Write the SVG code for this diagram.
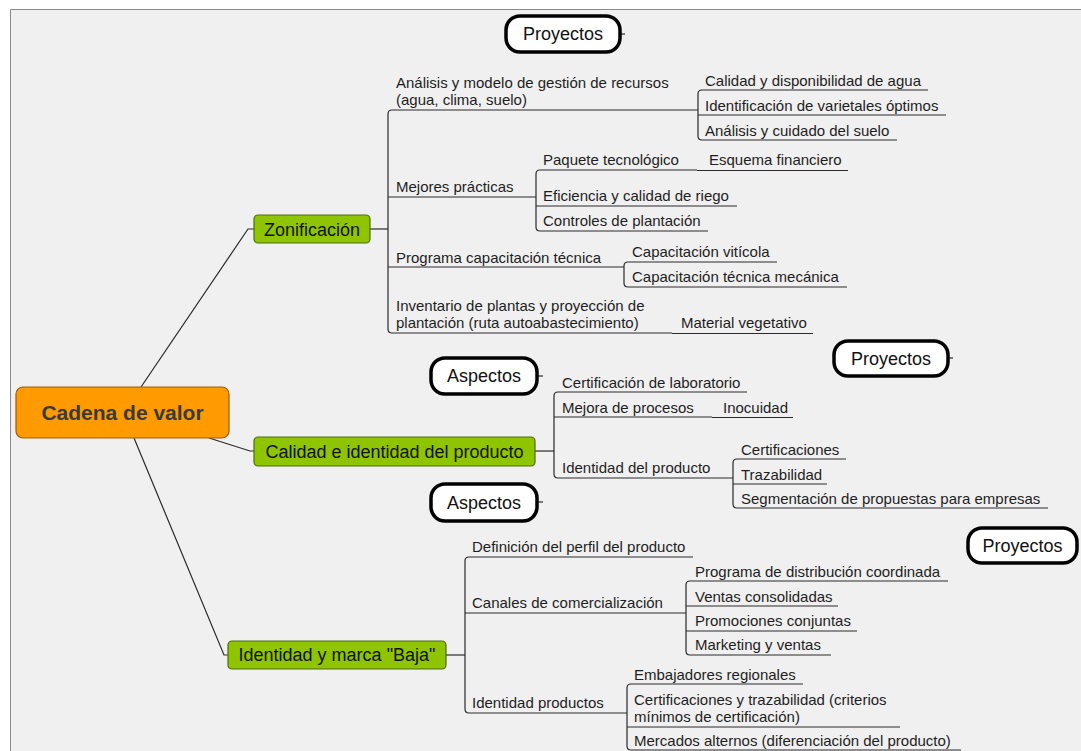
<svg xmlns="http://www.w3.org/2000/svg" width="1081" height="751" viewBox="0 0 1081 751">
<style>
.bg{fill:#f0f0f0}
.frame{fill:none;stroke:#8a8a8a;stroke-width:1}
.t{font-family:"Liberation Sans",Arial,sans-serif;font-size:15px;fill:#1e1e1e}
.bt{font-family:"Liberation Sans",Arial,sans-serif;font-size:18px;fill:#111;text-anchor:middle}
.rt{font-family:"Liberation Sans",Arial,sans-serif;font-size:21px;font-weight:bold;fill:#3a3a3a;text-anchor:middle}
.ul{stroke:#2a2a2a;stroke-width:1.2;fill:none}
.c{stroke:#2a2a2a;stroke-width:1.2;fill:none}
.green{fill:#8fc400;stroke:#4f6b10;stroke-width:1.2}
.root{fill:#ff9a00;stroke:#9a5c10;stroke-width:1.2}
.call{fill:#ffffff;stroke:#000;stroke-width:3.5}
</style>
<rect x="0" y="0" width="1081" height="751" fill="#ffffff"/>
<rect class="bg" x="10" y="9" width="1071" height="742"/>
<path class="frame" d="M10.5 751 V9.5 H1081"/>

<g id="connectors">
  <!-- root to main branches -->
  <path class="c" d="M141 387 L248 229 H254"/>
  <path class="c" d="M209 438 L250 451 H254"/>
  <path class="c" d="M134 438 L224 655 H228"/>
  <!-- Zonificacion -->
  <path class="c" d="M370 229 H388"/>
  <path class="c" d="M392 110 Q388 110 388 114 V329 Q388 333 392 333"/>
  <path class="c" d="M702 90 Q698 90 698 94 V136 Q698 140 702 140"/>
  <path class="c" d="M540 170 Q536 170 536 174 V227 Q536 231 540 231"/>
  <path class="c" d="M628 262 Q624 262 624 266 V283 Q624 287 628 287"/>
  <!-- Calidad -->
  <path class="c" d="M535 451 H554"/>
  <path class="c" d="M558 392 Q554 392 554 396 V474 Q554 478 558 478"/>
  <path class="c" d="M737 459 Q733 459 733 463 V504 Q733 508 737 508"/>
  <!-- Identidad y marca -->
  <path class="c" d="M446 655 H465"/>
  <path class="c" d="M469 557 Q465 557 465 561 V709 Q465 713 469 713"/>
  <path class="c" d="M690 581 Q686 581 686 585 V651 Q686 655 690 655"/>
  <path class="c" d="M631 684 Q627 684 627 688 V746 Q627 750 631 750"/>
  <!-- callout ticks -->
  <path class="c" d="M620 34 H625"/>
  <path class="c" d="M948 358 H953"/>
  <path class="c" d="M537 376 H543"/>
  <path class="c" d="M537 502 H543"/>
</g>

<g id="root">
  <rect class="root" x="16" y="387" width="213" height="51" rx="7"/>
  <text class="rt" x="122.5" y="420">Cadena de valor</text>
</g>

<g id="zonificacion">
  <rect class="green" x="254" y="215" width="116" height="28" rx="4"/>
  <text class="bt" x="312" y="235.5">Zonificación</text>
</g>
<g id="calidad">
  <rect class="green" x="254" y="437" width="281" height="29" rx="4"/>
  <text class="bt" x="394.5" y="458">Calidad e identidad del producto</text>
</g>
<g id="identidad-marca">
  <rect class="green" x="228" y="641" width="218" height="28" rx="4"/>
  <text class="bt" x="337" y="661">Identidad y marca "Baja"</text>
</g>

<g id="proyectos-1">
  <rect class="call" x="506" y="16" width="114" height="36" rx="14"/>
  <text class="bt" x="563" y="40" fill="#111">Proyectos</text>
</g>
<g id="proyectos-2">
  <rect class="call" x="834" y="341" width="114" height="35" rx="14"/>
  <text class="bt" x="891" y="364.5">Proyectos</text>
</g>
<g id="aspectos-1">
  <rect class="call" x="431" y="358" width="106" height="36" rx="14"/>
  <text class="bt" x="484" y="382">Aspectos</text>
</g>
<g id="aspectos-2">
  <rect class="call" x="431" y="484" width="106" height="37" rx="14"/>
  <text class="bt" x="484" y="508.5">Aspectos</text>
</g>
<g id="proyectos-3">
  <rect class="call" x="968" y="528" width="109" height="35" rx="14"/>
  <text class="bt" x="1022.5" y="551.5">Proyectos</text>
</g>

<!-- Zonificacion subtree -->
<g id="analisis-modelo">
  <text class="t" x="396" y="88">Análisis y modelo de gestión de recursos</text>
  <text class="t" x="396" y="105">(agua, clima, suelo)</text>
  <path class="ul" d="M392 110 H698"/>
</g>
<g id="calidad-agua">
  <text class="t" x="705" y="85.5">Calidad y disponibilidad de agua</text>
  <path class="ul" d="M702 90 H928"/>
</g>
<g id="varietales">
  <text class="t" x="705" y="110.5">Identificación de varietales óptimos</text>
  <path class="ul" d="M698 115 H946"/>
</g>
<g id="cuidado-suelo">
  <text class="t" x="705" y="135.5">Análisis y cuidado del suelo</text>
  <path class="ul" d="M702 140 H897"/>
</g>
<g id="mejores-practicas">
  <text class="t" x="396" y="192">Mejores prácticas</text>
  <path class="ul" d="M388 197 H536"/>
</g>
<g id="paquete">
  <text class="t" x="543" y="165">Paquete tecnológico</text>
  <path class="ul" d="M540 170 H697"/>
</g>
<g id="esquema">
  <text class="t" x="709" y="165">Esquema financiero</text>
  <path class="ul" d="M697 170.5 H848"/>
</g>
<g id="eficiencia">
  <text class="t" x="543" y="201">Eficiencia y calidad de riego</text>
  <path class="ul" d="M536 206 H737"/>
</g>
<g id="controles">
  <text class="t" x="543" y="226">Controles de plantación</text>
  <path class="ul" d="M540 231 H708"/>
</g>
<g id="programa-cap">
  <text class="t" x="396" y="262.5">Programa capacitación técnica</text>
  <path class="ul" d="M388 267 H624"/>
</g>
<g id="cap-viticola">
  <text class="t" x="632" y="257">Capacitación vitícola</text>
  <path class="ul" d="M628 262 H777"/>
</g>
<g id="cap-mecanica">
  <text class="t" x="632" y="282">Capacitación técnica mecánica</text>
  <path class="ul" d="M628 287 H847"/>
</g>
<g id="inventario">
  <text class="t" x="396" y="311">Inventario de plantas y proyección de</text>
  <text class="t" x="396" y="328">plantación (ruta autoabastecimiento)</text>
  <path class="ul" d="M392 333 H672"/>
</g>
<g id="material">
  <text class="t" x="681" y="328">Material vegetativo</text>
  <path class="ul" d="M672 333.5 H813"/>
</g>

<!-- Calidad subtree -->
<g id="cert-lab">
  <text class="t" x="562" y="387.5">Certificación de laboratorio</text>
  <path class="ul" d="M558 392 H747"/>
</g>
<g id="mejora-procesos">
  <text class="t" x="562" y="412.5">Mejora de procesos</text>
  <path class="ul" d="M554 417 H712"/>
</g>
<g id="inocuidad">
  <text class="t" x="723" y="412.5">Inocuidad</text>
  <path class="ul" d="M712 417.5 H793"/>
</g>
<g id="identidad-producto">
  <text class="t" x="562" y="473">Identidad del producto</text>
  <path class="ul" d="M558 478 H733"/>
</g>
<g id="certificaciones">
  <text class="t" x="741" y="454.5">Certificaciones</text>
  <path class="ul" d="M737 459 H846"/>
</g>
<g id="trazabilidad">
  <text class="t" x="741" y="479.5">Trazabilidad</text>
  <path class="ul" d="M733 484 H827"/>
</g>
<g id="segmentacion">
  <text class="t" x="741" y="503.5">Segmentación de propuestas para empresas</text>
  <path class="ul" d="M737 508 H1048"/>
</g>

<!-- Identidad y marca subtree -->
<g id="definicion">
  <text class="t" x="472" y="552">Definición del perfil del producto</text>
  <path class="ul" d="M469 557 H693"/>
</g>
<g id="canales">
  <text class="t" x="472" y="608">Canales de comercialización</text>
  <path class="ul" d="M465 613 H686"/>
</g>
<g id="distribucion">
  <text class="t" x="695" y="576.5">Programa de distribución coordinada</text>
  <path class="ul" d="M690 581 H948"/>
</g>
<g id="ventas-consolidadas">
  <text class="t" x="695" y="601.5">Ventas consolidadas</text>
  <path class="ul" d="M686 606 H838"/>
</g>
<g id="promociones">
  <text class="t" x="695" y="626">Promociones conjuntas</text>
  <path class="ul" d="M686 631 H857"/>
</g>
<g id="marketing">
  <text class="t" x="695" y="650">Marketing y ventas</text>
  <path class="ul" d="M690 655 H831"/>
</g>
<g id="identidad-productos">
  <text class="t" x="472" y="708">Identidad productos</text>
  <path class="ul" d="M469 713 H627"/>
</g>
<g id="embajadores">
  <text class="t" x="634" y="679.5">Embajadores regionales</text>
  <path class="ul" d="M631 684 H803"/>
</g>
<g id="cert-trazabilidad">
  <text class="t" x="634" y="705">Certificaciones y trazabilidad (criterios</text>
  <text class="t" x="634" y="721.5">mínimos de certificación)</text>
  <path class="ul" d="M627 727 H900"/>
</g>
<g id="mercados">
  <text class="t" x="634" y="745.5">Mercados alternos (diferenciación del producto)</text>
  <path class="ul" d="M631 750 H961"/>
</g>
</svg>
